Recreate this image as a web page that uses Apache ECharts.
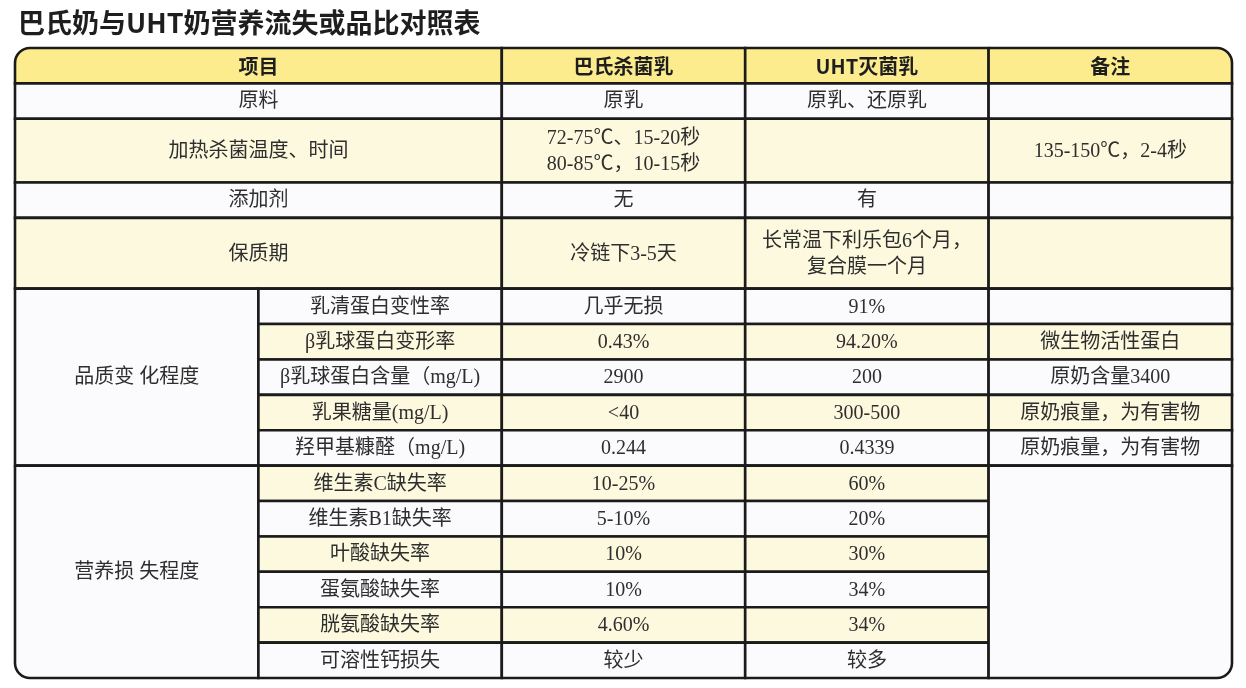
<!DOCTYPE html>
<html><head><meta charset="utf-8">
<script src="https://cdn.jsdelivr.net/npm/echarts@6/dist/echarts.min.js"></script>
<style>html,body{margin:0;padding:0;background:#fff}#c{width:1246px;height:688px}</style>
</head><body><div id="c"></div>
<script>
// ---- data ----
const title = '巴氏奶与UHT奶营养流失或品比对照表';
const headers = ['项目', '巴氏杀菌乳', 'UHT灭菌乳', '备注'];
const basicItems = ['原料', '加热杀菌温度、时间', '添加剂', '保质期'];
const basicPasteurized = ['原乳', '72-75℃、15-20秒\n80-85℃，10-15秒', '无', '冷链下3-5天'];
const basicUHT = ['原乳、还原乳', '', '有', '长常温下利乐包6个月，\n复合膜一个月'];
const basicNotes = ['', '135-150℃，2-4秒', '', ''];
const basicRowSpans = [1, 1.8, 1, 2];

const qualityGroup = '品质变 化程度';
const qualityItems = ['乳清蛋白变性率', 'β乳球蛋白变形率', 'β乳球蛋白含量（mg/L)', '乳果糖量(mg/L)', '羟甲基糠醛（mg/L)'];
const qualityPasteurized = ['几乎无损', '0.43%', '2900', '<40', '0.244'];
const qualityUHT = ['91%', '94.20%', '200', '300-500', '0.4339'];
const qualityNotes = ['', '微生物活性蛋白', '原奶含量3400', '原奶痕量，为有害物', '原奶痕量，为有害物'];

const nutritionGroup = '营养损 失程度';
const nutritionItems = ['维生素C缺失率', '维生素B1缺失率', '叶酸缺失率', '蛋氨酸缺失率', '胱氨酸缺失率', '可溶性钙损失'];
const nutritionPasteurized = ['10-25%', '5-10%', '10%', '10%', '4.60%', '较少'];
const nutritionUHT = ['60%', '20%', '30%', '34%', '34%', '较多'];

// ---- styles ----
const HEAD_FILL = '#FCEC8E';
const PALE_FILL = '#FDF9DE';
const WHITE_FILL = '#FBFBFD';
const BORDER = '#1b1b1b';
const FONT = '"Liberation Serif","Noto Sans CJK SC",serif';
const HEAD_FONT = '"Noto Sans CJK SC",sans-serif';
const RAD = 15;

// ---- build cells: [x0, y0, xSpan, ySpan, text, fill, bold, radius] ----
const cells = [];
let y = 0;
headers.forEach((h, i) => cells.push([i === 0 ? 0 : i + 1, y, i === 0 ? 2 : 1, 1, h, HEAD_FILL, true,
  i === 0 ? [RAD, 0, 0, 0] : (i === 3 ? [0, RAD, 0, 0] : 0)]));
y += 1;
basicItems.forEach((it, i) => {
  const s = basicRowSpans[i];
  const f = i % 2 === 1 ? PALE_FILL : WHITE_FILL;
  cells.push([0, y, 2, s, it, f, false, 0]);
  cells.push([2, y, 1, s, basicPasteurized[i], f, false, 0]);
  cells.push([3, y, 1, s, basicUHT[i], f, false, 0]);
  cells.push([4, y, 1, s, basicNotes[i], f, false, 0]);
  y += s;
});
cells.push([0, y, 1, qualityItems.length, qualityGroup, WHITE_FILL, false, 0]);
qualityItems.forEach((it, i) => {
  const f = i % 2 === 1 ? PALE_FILL : WHITE_FILL;
  cells.push([1, y, 1, 1, it, f, false, 0]);
  cells.push([2, y, 1, 1, qualityPasteurized[i], f, false, 0]);
  cells.push([3, y, 1, 1, qualityUHT[i], f, false, 0]);
  cells.push([4, y, 1, 1, qualityNotes[i], f, false, 0]);
  y += 1;
});
const nStart = y;
cells.push([0, y, 1, nutritionItems.length, nutritionGroup, WHITE_FILL, false, [0, 0, 0, RAD]]);
nutritionItems.forEach((it, i) => {
  const f = i % 2 === 0 ? PALE_FILL : WHITE_FILL;
  cells.push([1, y, 1, 1, it, f, false, 0]);
  cells.push([2, y, 1, 1, nutritionPasteurized[i], f, false, 0]);
  cells.push([3, y, 1, 1, nutritionUHT[i], f, false, 0]);
  y += 1;
});
cells.push([4, nStart, 1, nutritionItems.length, '', WHITE_FILL, false, [0, 0, RAD, 0]]);
const totalRows = y;

const chart = echarts.init(document.getElementById('c'));
chart.setOption({
  backgroundColor: '#ffffff',
  animation: false,
  title: {
    text: title, left: 13, top: 4,
    textStyle: { fontFamily: HEAD_FONT, fontSize: 27, fontWeight: 'bold', color: '#1e1e1e' }
  },
  grid: { left: 15, top: 48, width: 1217, height: 630, containLabel: false },
  xAxis: { type: 'value', min: 0, max: 5, show: false },
  yAxis: { type: 'value', min: 0, max: totalRows, inverse: true, show: false },
  series: [{
    type: 'custom',
    coordinateSystem: 'cartesian2d',
    data: cells.map((c, i) => [c[0], c[1], c[2], c[3], i]),
    encode: { x: 0, y: 1 },
    renderItem: function (params, api) {
      const c = cells[api.value(4)];
      const p0 = api.coord([c[0], c[1]]);
      const p1 = api.coord([c[0] + c[2], c[1] + c[3]]);
      const w = p1[0] - p0[0], h = p1[1] - p0[1];
      return {
        type: 'group',
        children: [{
          type: 'rect',
          shape: { x: p0[0], y: p0[1], width: w, height: h, r: c[7] },
          style: { fill: c[5], stroke: BORDER, lineWidth: 2.6 }
        }, {
          type: 'text',
          x: p0[0] + w / 2, y: p0[1] + h / 2 + 1,
          style: {
            text: c[4], align: 'center', verticalAlign: 'middle',
            fontFamily: c[6] ? HEAD_FONT : FONT,
            fontSize: 20, fontWeight: c[6] ? 'bold' : 'normal',
            fill: c[6] ? '#1e1e1e' : '#2e2e2e', lineHeight: 26
          }
        }]
      };
    }
  }]
});
</script></body></html>
